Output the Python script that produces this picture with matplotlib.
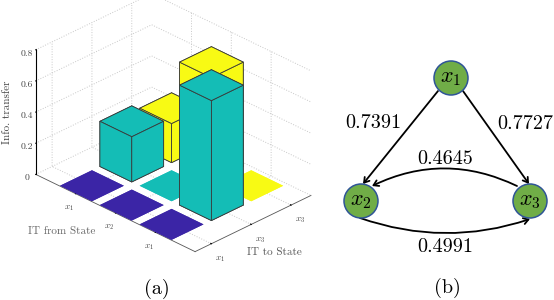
import numpy as np
from matplotlib import pyplot as plt
from matplotlib.patches import Circle, FancyArrowPatch

plt.rcParams['font.family'] = ['cmr10', 'DejaVu Serif']
plt.rcParams['mathtext.fontset'] = 'cm'
plt.rcParams['axes.formatter.use_mathtext'] = True

# bar heights, to-state index -> list over from-state (near row first)
heights_to1 = [0.0, 0.0, 0.0]
heights_to2 = [0.77, 0.0, 0.29]
heights_to3 = [0.0, 0.67, 0.25]
bar_colors = ['#3B25A6', '#14BDB6', '#F8FA14']

to_labels = ['$x_1$', '$x_3$', '$x_3$']
from_labels = ['$x_1$', '$x_2$', '$x_1$']
z_ticks = [0, 0.2, 0.4, 0.6, 0.8]
z_labels = ['0', '0.2', '0.4', '0.6', '0.8']

node_names = ['$x_1$', '$x_2$', '$x_3$']
node_x = [451, 361, 530]
node_y = [78, 201, 201]
edge_labels = ['0.7391', '0.7727', '0.4645', '0.4991']

fig = plt.figure(figsize=(5.54, 3.0), dpi=100)

# (a) 3d bars
ax = fig.add_axes([-2/554, 49/300, 344/554, 250/300], projection='3d', proj_type='ortho', computed_zorder=False)
ax.view_init(elev=29, azim=-135)
ax.set_box_aspect((2.91, 4, 2.53), zoom=1.215)
ax.patch.set_alpha(0)

all_heights = [heights_to1, heights_to2, heights_to3]
w = 0.8
order = 0
# far bars first so the near ones cover them
cells = [(i, j) for i in range(3) for j in range(3)]
cells.sort(key=lambda c: -(c[0] + c[1]))
for i, j in cells:
    h = all_heights[i][j]
    order += 1
    if h > 0:
        ax.bar3d(i - w/2, j - w/2, 0, w, w, h, color=bar_colors[i], shade=False,
                 edgecolor='#3a3a3a', linewidth=0.6, zorder=order)
    else:
        ax.bar3d(i - w/2, j - w/2, 0, w, w, 0.0005, color=bar_colors[i], shade=False,
                 edgecolor=bar_colors[i], linewidth=0, zorder=order)

ax.set_xlim(-0.41, 2.5, view_margin=0)
ax.set_ylim(-1, 3, view_margin=0)
ax.set_zlim(0, 0.8, view_margin=0)

ax.set_xticks([0, 1, 2])
ax.set_xticklabels(to_labels, fontsize=6.5, color='#444444')
ax.set_yticks([0, 1, 2])
ax.set_yticklabels(from_labels, fontsize=6.5, color='#444444')
ax.set_zticks(z_ticks)
ax.set_zticklabels(z_labels, fontsize=7, color='#444444')

for axis in [ax.xaxis, ax.yaxis, ax.zaxis]:
    axis.set_pane_color((1, 1, 1, 0))
    axis.pane.set_edgecolor((1, 1, 1, 0))
    axis._axinfo['grid']['color'] = '#c8c8c8'
    axis._axinfo['grid']['linewidth'] = 0.7
    axis._axinfo['grid']['linestyle'] = ':'
    axis._axinfo['tick']['inward_factor'] = 0
    axis._axinfo['tick']['outward_factor'] = 0.05
ax.xaxis.line.set_color('#555555')
ax.yaxis.line.set_color('#555555')
ax.zaxis.line.set_color('black')
ax.xaxis.line.set_linewidth(0.6)
ax.yaxis.line.set_linewidth(0.6)
ax.tick_params(axis='x', pad=-3)
ax.tick_params(axis='y', pad=-3)
ax.tick_params(axis='z', pad=-5)

# overlay in pixel coords for labels and the graph
ov = fig.add_axes([0, 0, 1, 1])
ov.set_xlim(0, 554)
ov.set_ylim(300, 0)
ov.axis('off')
ov.patch.set_alpha(0)

ov.text(7, 112, 'Info. transfer', rotation=90, fontsize=8, color='#444444', ha='center', va='center')
ov.text(62, 231, 'IT from State', fontsize=8, color='#666666', ha='center', va='center')
ov.text(274, 252, 'IT to State', fontsize=8, color='#555555', ha='center', va='center')
ov.text(157, 289, '(a)', fontsize=14.5, ha='center', va='center')
ov.text(447, 288, '(b)', fontsize=14.5, ha='center', va='center')

# (b) graph
arrow_kw = dict(arrowstyle='->,head_length=3.5,head_width=2.2', color='black', lw=1.3, shrinkA=0, shrinkB=0)
ov.add_patch(FancyArrowPatch((438, 91), (363, 184), **arrow_kw))
ov.add_patch(FancyArrowPatch((463, 91), (529, 184), **arrow_kw))
ov.add_patch(FancyArrowPatch((517, 186), (372, 186), connectionstyle='arc3,rad=0.24', **arrow_kw))
ov.add_patch(FancyArrowPatch((360, 218), (530, 219), connectionstyle='arc3,rad=0.17', **arrow_kw))

for name, x, y in zip(node_names, node_x, node_y):
    ov.add_patch(Circle((x, y), 17, facecolor='#70AD47', edgecolor='#2F5597', lw=1.1, zorder=3))
    ov.text(x, y, name, fontsize=16, ha='center', va='center', zorder=4)

ov.text(373, 123, edge_labels[0], fontsize=14.5, ha='center', va='center')
ov.text(525, 124, edge_labels[1], fontsize=14.5, ha='center', va='center')
ov.text(445, 159, edge_labels[2], fontsize=14.5, ha='center', va='center')
ov.text(445, 247, edge_labels[3], fontsize=14.5, ha='center', va='center')

plt.savefig('out.png', dpi=100)
